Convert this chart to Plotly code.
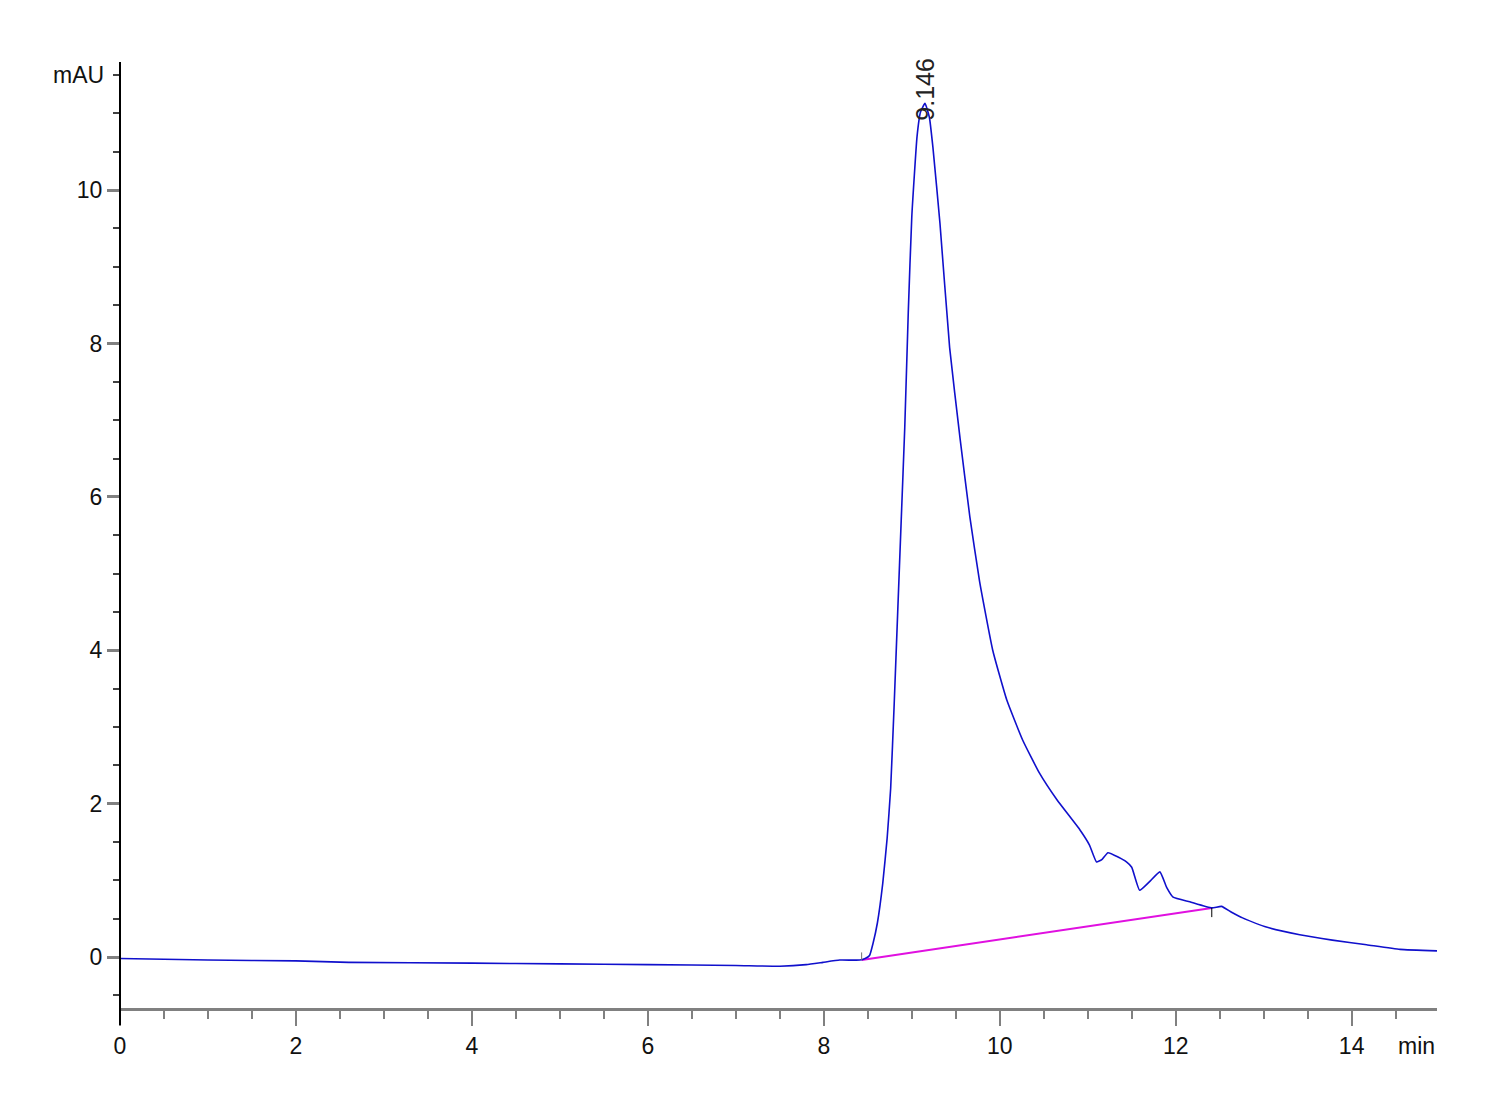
import plotly.graph_objects as go

# Chromatogram trace (retention time in min, absorbance in mAU)
time_min = [0.0, 1.0, 2.0, 2.6, 4.0, 5.0, 6.0, 7.0, 7.5, 7.8, 7.99, 8.18, 8.41, 8.47, 8.52,
            8.56, 8.61, 8.67, 8.72, 8.76, 8.80, 8.84, 8.88, 8.92, 8.96, 9.00, 9.06, 9.10, 9.15,
            9.20, 9.24, 9.32, 9.43, 9.55, 9.66, 9.77, 9.92, 10.08, 10.26, 10.45, 10.65, 10.91,
            11.02, 11.10, 11.16, 11.23, 11.35, 11.44, 11.50, 11.59, 11.70, 11.82, 11.90,
            11.97, 12.16, 12.41, 12.52, 12.64, 12.76, 13.03, 13.41, 13.78, 14.17, 14.55, 14.97]
absorbance = [-0.02, -0.04, -0.05, -0.07, -0.08, -0.09, -0.10, -0.11, -0.12, -0.10, -0.07,
              -0.04, -0.04, -0.02, 0.02, 0.18, 0.45, 0.96, 1.55, 2.2, 3.3, 4.5, 5.7, 6.9,
              8.4, 9.65, 10.70, 11.02, 11.13, 10.95, 10.56, 9.57, 7.95, 6.75, 5.74, 4.90, 4.0,
              3.35, 2.83, 2.40, 2.05, 1.66, 1.46, 1.24, 1.27, 1.36, 1.30, 1.24, 1.17, 0.87,
              0.98, 1.11, 0.90, 0.78, 0.72, 0.64, 0.66, 0.58, 0.51, 0.39, 0.29, 0.22, 0.16,
              0.10, 0.08]

# Integration baseline (start / end points)
baseline_t = [8.43, 12.41]
baseline_v = [-0.04, 0.64]

# Peak label
peak_rt = 9.146
peak_label_y = 10.88

x_tick_vals = [0, 2, 4, 6, 8, 10, 12, 14]
x_tick_text = ["0", "2", "4", "6", "8", "10", "12", "14"]
y_tick_vals = [0, 2, 4, 6, 8, 10]
y_tick_text = ["0", "2", "4", "6", "8", "10"]

FONT = "Liberation Sans, Arial, sans-serif"

fig = go.Figure()
fig.add_trace(go.Scatter(x=baseline_t, y=baseline_v, mode="lines",
                         line=dict(color="#E010E0", width=2), hoverinfo="skip"))
fig.add_trace(go.Scatter(x=time_min, y=absorbance, mode="lines",
                         line=dict(color="#1010CC", width=1.6, shape="spline", smoothing=0.4)))

# small integration marks at the baseline ends
fig.add_shape(type="line", xref="x", yref="y", x0=baseline_t[0], x1=baseline_t[0],
              y0=baseline_v[0], y1=baseline_v[0] + 0.1, line=dict(color="#707070", width=1))
fig.add_shape(type="line", xref="x", yref="y", x0=baseline_t[1], x1=baseline_t[1],
              y0=baseline_v[1], y1=baseline_v[1] - 0.12, line=dict(color="#000000", width=1))

# y axis line extending below the x axis
fig.add_shape(type="line", xref="paper", yref="paper", x0=0, x1=0, y0=-0.018, y1=1,
              line=dict(color="black", width=2))

fig.add_annotation(x=peak_rt, y=peak_label_y, text=f"{peak_rt:.3f}", textangle=-90,
                   showarrow=False, xanchor="center", yanchor="bottom",
                   font=dict(family=FONT, size=25, color="#222222"))
fig.add_annotation(xref="paper", yref="y", x=0, y=11.5, text="mAU", showarrow=False,
                   xanchor="right", yanchor="middle", xshift=-14,
                   font=dict(family=FONT, size=23, color="#111111"))
fig.add_annotation(xref="paper", yref="paper", x=1, y=0, text="min", showarrow=False,
                   xanchor="right", yanchor="top", yshift=-23,
                   font=dict(family=FONT, size=23, color="#111111"))

fig.update_layout(
    width=1500, height=1100,
    margin=dict(l=112, r=71, t=54, b=100),
    paper_bgcolor="white", plot_bgcolor="white",
    showlegend=False,
    font=dict(family=FONT, size=23, color="#111111"),
)
fig.update_xaxes(range=[0, 14.97], showgrid=False, zeroline=False,
                 showline=True, linecolor="#808080", linewidth=3,
                 tickmode="array", tickvals=x_tick_vals, ticktext=x_tick_text,
                 ticks="outside", ticklen=15, tickwidth=2, tickcolor="#808080",
                 minor=dict(dtick=0.5, ticks="outside", ticklen=8, tickwidth=2, tickcolor="#808080"),
                 tickfont=dict(family=FONT, size=23, color="#111111"))
fig.update_yaxes(range=[-0.665, 11.67], showgrid=False, zeroline=False,
                 showline=False,
                 tickmode="array", tickvals=y_tick_vals, ticktext=y_tick_text,
                 ticks="outside", ticklen=12, tickwidth=3, tickcolor="#808080",
                 minor=dict(dtick=0.5, ticks="outside", ticklen=6, tickwidth=2, tickcolor="#404040"),
                 tickfont=dict(family=FONT, size=23, color="#111111"))

fig.write_html("out.html")
